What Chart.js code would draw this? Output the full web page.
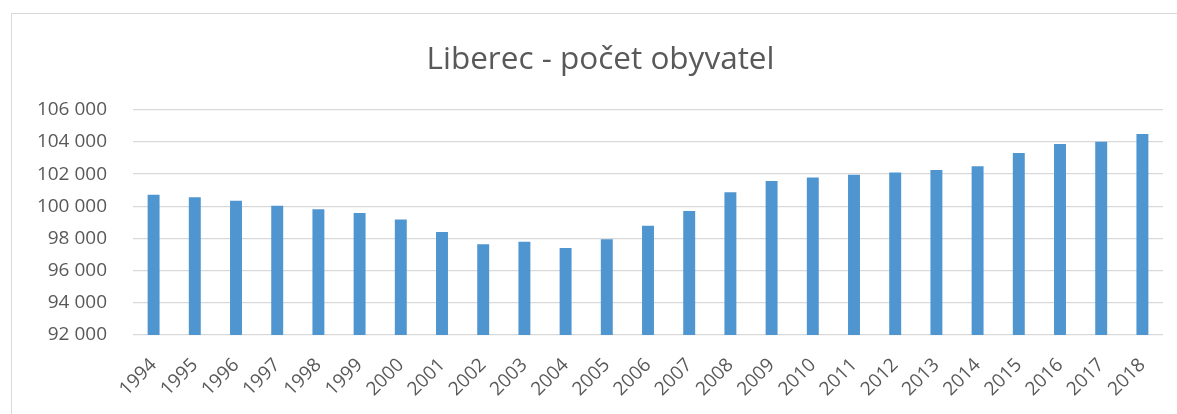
<!DOCTYPE html>
<html>
<head>
<meta charset="utf-8">
<script src="https://cdn.jsdelivr.net/npm/chart.js@4.4.1/dist/chart.umd.min.js"></script>
<style>
  html, body { margin: 0; padding: 0; background: #ffffff; overflow: hidden; }
  #wrap { position: relative; width: 1177px; height: 414px; }
  #frame { position: absolute; left: 11px; top: 13px; width: 1180px; height: 420px;
           border-top: 1.5px solid #d9d9d9; border-left: 1.5px solid #d9d9d9; }
  canvas { position: absolute; left: 0; top: 0; }
</style>
</head>
<body>
<div id="wrap">
  <div id="frame"></div>
  <canvas id="c" width="1177" height="414"></canvas>
</div>
<script>
const title = 'Liberec - počet obyvatel';
const years = ['1994','1995','1996','1997','1998','1999','2000','2001','2002','2003','2004','2005','2006',
               '2007','2008','2009','2010','2011','2012','2013','2014','2015','2016','2017','2018'];
const population = [100720, 100570, 100350, 100040, 99815, 99590, 99175, 98410, 97635, 97795, 97410, 97960, 98785,
                    99710, 100880, 101580, 101795, 101960, 102105, 102255, 102490, 103320, 103870, 104020, 104500];
const yMin = 92000, yMax = 106000, yStep = 2000;

const fmt = v => String(v).replace(/\B(?=(\d{3})+(?!\d))/g, ' ');
const FONT = "'Open Sans', sans-serif";
const TEXT = '#595959';

new Chart(document.getElementById('c'), {
  type: 'bar',
  data: {
    labels: years,
    datasets: [{
      data: population,
      backgroundColor: '#4f96d1',
      borderWidth: 0,
      categoryPercentage: 1,
      barPercentage: 0.29
    }]
  },
  options: {
    responsive: false,
    animation: false,
    devicePixelRatio: 1,
    layout: { padding: { left: 38, right: 14, top: 0, bottom: 0 } },
    plugins: {
      legend: { display: false },
      tooltip: { enabled: false },
      title: {
        display: true,
        text: title,
        color: TEXT,
        font: { family: FONT, size: 31.5, weight: 'normal', lineHeight: 1.2 },
        padding: { top: 41, bottom: 31 }
      }
    },
    scales: {
      x: {
        grid: { display: false },
        border: { display: false },
        ticks: {
          color: TEXT,
          font: { family: FONT, size: 19 },
          minRotation: 45, maxRotation: 45,
          padding: 11,
          autoSkip: false
        },
        afterFit: s => { s.height = 79; }
      },
      y: {
        min: yMin, max: yMax,
        grid: { color: '#d9d9d9', lineWidth: 1.3, drawTicks: false },
        border: { display: false },
        ticks: {
          stepSize: yStep,
          color: TEXT,
          font: { family: FONT, size: 19 },
          padding: 26,
          callback: v => fmt(v)
        },
        afterFit: s => { s.width = 95; }
      }
    }
  }
});
</script>
</body>
</html>
